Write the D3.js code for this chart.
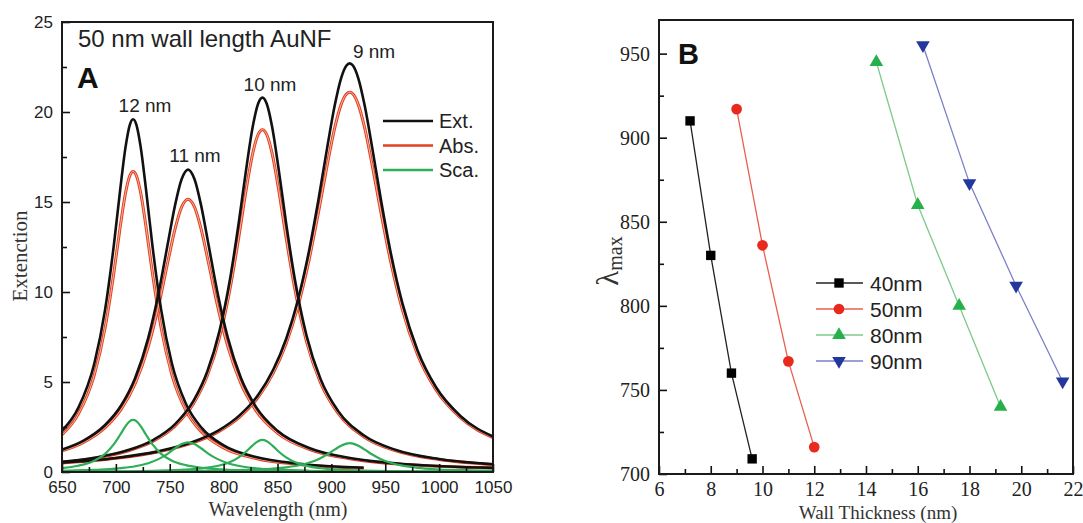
<!DOCTYPE html>
<html>
<head>
<meta charset="utf-8">
<script src="https://cdn.jsdelivr.net/npm/d3@7/dist/d3.min.js"></script>
<style>
  html, body { margin: 0; padding: 0; background: #ffffff; }
  svg { display: block; }
</style>
</head>
<body>
<svg id="fig" width="1083" height="523"></svg>
<script>
// ---------- Panel A: spectra of 50 nm wall length AuNF (wall thickness 12, 11, 10, 9 nm) ----------
const wl12  = [650, 665, 680, 690, 698, 704, 709, 713, 716, 719, 723, 728, 734, 742, 752, 765, 780, 800, 830, 870, 930];
const ext12 = [2.29, 3.55, 6.03, 9.02, 12.54, 15.68, 18.06, 19.30, 19.60, 19.30, 18.06, 15.68, 12.54, 9.02, 6.03, 3.79, 2.42, 1.48, 0.83, 0.46, 0.24];
const abs12 = [2.07, 3.20, 5.40, 8.01, 11.01, 13.61, 15.51, 16.47, 16.70, 16.47, 15.51, 13.61, 11.01, 8.01, 5.40, 3.41, 2.19, 1.34, 0.75, 0.42, 0.22];
const sca12 = [0.22, 0.35, 0.63, 1.01, 1.53, 2.07, 2.55, 2.83, 2.90, 2.83, 2.55, 2.07, 1.53, 1.01, 0.63, 0.38, 0.23, 0.14, 0.08, 0.04, 0.02];

const wl11  = [650, 670, 690, 705, 718, 730, 740, 748, 755, 761, 767, 773, 779, 786, 794, 804, 816, 830, 850, 880, 920, 970, 1050];
const ext11 = [1.24, 1.74, 2.61, 3.71, 5.24, 7.44, 10.06, 12.62, 14.84, 16.26, 16.80, 16.26, 14.84, 12.62, 10.06, 7.44, 5.24, 3.62, 2.29, 1.32, 0.75, 0.43, 0.23];
const abs11 = [1.17, 1.64, 2.46, 3.49, 4.92, 6.95, 9.33, 11.61, 13.52, 14.71, 15.15, 14.71, 13.52, 11.61, 9.33, 6.95, 4.92, 3.41, 2.16, 1.25, 0.71, 0.41, 0.22];
const sca11 = [0.07, 0.10, 0.15, 0.22, 0.32, 0.49, 0.73, 1.01, 1.32, 1.55, 1.65, 1.55, 1.32, 1.01, 0.73, 0.49, 0.32, 0.21, 0.13, 0.07, 0.04, 0.02, 0.01];

const wl10  = [650, 680, 710, 735, 755, 772, 785, 796, 806, 814, 821, 827, 832, 836, 840, 845, 851, 858, 866, 877, 890, 906, 930, 960, 1000, 1050];
const ext10 = [0.56, 0.79, 1.19, 1.79, 2.66, 3.95, 5.61, 7.80, 10.74, 13.83, 16.85, 19.18, 20.46, 20.80, 20.46, 19.18, 16.85, 13.83, 10.74, 7.57, 5.16, 3.41, 2.04, 1.22, 0.72, 0.43];
const abs10 = [0.54, 0.76, 1.15, 1.72, 2.56, 3.79, 5.37, 7.44, 10.19, 13.02, 15.71, 17.70, 18.75, 19.02, 18.75, 17.70, 15.71, 13.02, 10.19, 7.23, 4.95, 3.28, 1.96, 1.17, 0.69, 0.41];
const sca10 = [0.02, 0.03, 0.04, 0.07, 0.10, 0.16, 0.24, 0.36, 0.55, 0.81, 1.14, 1.48, 1.71, 1.78, 1.71, 1.48, 1.14, 0.81, 0.55, 0.34, 0.21, 0.13, 0.08, 0.05, 0.03, 0.02];

const wl9  = [650, 700, 740, 770, 795, 815, 832, 846, 858, 869, 879, 888, 896, 903, 909, 914, 917, 920, 925, 931, 938, 946, 955, 966, 980, 997, 1020, 1050];
const ext9 = [0.52, 0.78, 1.16, 1.64, 2.30, 3.16, 4.28, 5.68, 7.39, 9.57, 12.21, 15.13, 17.98, 20.33, 21.87, 22.58, 22.70, 22.58, 21.87, 20.33, 17.98, 15.13, 12.21, 9.35, 6.75, 4.72, 3.10, 1.97];
const abs9 = [0.50, 0.76, 1.13, 1.59, 2.23, 3.06, 4.14, 5.49, 7.13, 9.21, 11.70, 14.42, 17.01, 19.09, 20.41, 21.00, 21.10, 21.00, 20.41, 19.09, 17.01, 14.42, 11.70, 9.00, 6.52, 4.57, 3.00, 1.91];
const sca9 = [0.02, 0.02, 0.03, 0.05, 0.07, 0.10, 0.14, 0.19, 0.26, 0.36, 0.51, 0.71, 0.97, 1.24, 1.46, 1.58, 1.60, 1.58, 1.46, 1.24, 0.97, 0.71, 0.51, 0.35, 0.23, 0.15, 0.10, 0.06];

const thicknessLabels = ["12 nm", "11 nm", "10 nm", "9 nm"];
const legendA = ["Ext.", "Abs.", "Sca."];
const xTicksA = [650, 700, 750, 800, 850, 900, 950, 1000, 1050];
const yTicksA = [0, 5, 10, 15, 20, 25];

// ---------- Panel B: plasmon peak position vs wall thickness ----------
const wallLengths = ["40nm", "50nm", "80nm", "90nm"];
const thick40 = [7.2, 8.0, 8.8, 9.6];
const peak40  = [910, 830, 760, 709];
const thick50 = [9, 10, 11, 12];
const peak50  = [917, 836, 767, 716];
const thick80 = [14.4, 16.0, 17.6, 19.2];
const peak80  = [945, 860, 800, 740];
const thick90 = [16.2, 18.0, 19.8, 21.6];
const peak90  = [955, 873, 812, 755];
const xTicksB = [6, 8, 10, 12, 14, 16, 18, 20, 22];
const yTicksB = [700, 750, 800, 850, 900, 950];

const svg = d3.select("#fig");
const SANS = "'Liberation Sans', Arial, sans-serif";
const SERIF = "'Liberation Serif', 'Times New Roman', serif";

// ================= Panel A =================
const xA = d3.scaleLinear().domain([650, 1050]).range([62, 493]);
const yA = d3.scaleLinear().domain([0, 25]).range([472, 22]);

const gA = svg.append("g");
gA.append("defs").append("clipPath").attr("id", "clipA")
  .append("rect").attr("x", 62).attr("y", 22).attr("width", 431).attr("height", 450);

const lineA = d3.line().x(d => xA(d[0])).y(d => yA(d[1])).curve(d3.curveMonotoneX);
const zip = (xs, ys) => xs.map((x, i) => [x, ys[i]]);

const spectra = [
  { wl: wl12, ext: ext12, abs: abs12, sca: sca12 },
  { wl: wl11, ext: ext11, abs: abs11, sca: sca11 },
  { wl: wl10, ext: ext10, abs: abs10, sca: sca10 },
  { wl: wl9,  ext: ext9,  abs: abs9,  sca: sca9  }
];

const RED = "#e2401f", BLACK = "#111111", GREEN = "#2fae57";
const curves = gA.append("g").attr("clip-path", "url(#clipA)");

spectra.forEach(s => {
  curves.append("path").attr("d", lineA(zip(s.wl, s.abs)))
    .attr("fill", "none").attr("stroke", RED).attr("stroke-width", 3);
  curves.append("path").attr("d", lineA(zip(s.wl, s.abs)))
    .attr("fill", "none").attr("stroke", "#f8c3b4").attr("stroke-width", 0.9);
});
spectra.forEach(s => {
  curves.append("path").attr("d", lineA(zip(s.wl, s.ext)))
    .attr("fill", "none").attr("stroke", BLACK).attr("stroke-width", 2.6);
});
spectra.forEach(s => {
  curves.append("path").attr("d", lineA(zip(s.wl, s.sca)))
    .attr("fill", "none").attr("stroke", GREEN).attr("stroke-width", 2.2);
});

// axes with inward ticks
const axA = gA.append("g").attr("font-family", SANS);
axA.append("g").attr("transform", "translate(0,472)")
  .call(d3.axisBottom(xA).tickValues(d3.range(675, 1050, 50)).tickSize(-5).tickFormat(""))
  .call(g => g.select(".domain").remove());
axA.append("g").attr("transform", "translate(0,472)")
  .call(d3.axisBottom(xA).tickValues(xTicksA).tickSize(-8).tickPadding(9).tickFormat(d3.format("d")))
  .call(g => g.select(".domain").remove())
  .call(g => g.selectAll("text").attr("font-size", 17).attr("fill", "#222").attr("font-family", SANS));
axA.append("g").attr("transform", "translate(62,0)")
  .call(d3.axisLeft(yA).tickValues([2.5, 7.5, 12.5, 17.5, 22.5]).tickSize(-5).tickFormat(""))
  .call(g => g.select(".domain").remove());
axA.append("g").attr("transform", "translate(62,0)")
  .call(d3.axisLeft(yA).tickValues(yTicksA).tickSize(-8).tickPadding(9).tickFormat(d3.format("d")))
  .call(g => g.select(".domain").remove())
  .call(g => g.selectAll("text").attr("font-size", 17).attr("fill", "#222").attr("font-family", SANS));
axA.selectAll(".tick line").attr("stroke", "#111").attr("stroke-width", 1.6);

gA.append("rect").attr("x", 62).attr("y", 22).attr("width", 431).attr("height", 450)
  .attr("fill", "none").attr("stroke", "#1a1a1a").attr("stroke-width", 2);

gA.append("text").attr("x", 20).attr("y", 256)
  .attr("transform", "rotate(-90,20,256)").attr("text-anchor", "middle").attr("dominant-baseline", "central")
  .attr("font-family", SERIF).attr("font-size", 21).attr("fill", "#333").text("Extenction");
gA.append("text").attr("x", 278).attr("y", 516).attr("text-anchor", "middle")
  .attr("font-family", SERIF).attr("font-size", 20).attr("fill", "#333").text("Wavelength (nm)");

gA.append("text").attr("x", 78).attr("y", 47).attr("font-family", SANS).attr("font-size", 24)
  .attr("fill", "#222").text("50 nm wall length AuNF");
gA.append("text").attr("x", 77).attr("y", 88).attr("font-family", SANS).attr("font-size", 30)
  .attr("font-weight", "bold").attr("fill", "#111").text("A");

// peak labels positioned above each extinction maximum
const labelPos = [
  { x: 145, y: 112 }, { x: 195, y: 162 }, { x: 270, y: 91 }, { x: 374, y: 58 }
];
thicknessLabels.forEach((t, i) => {
  gA.append("text").attr("x", labelPos[i].x).attr("y", labelPos[i].y).attr("text-anchor", "middle")
    .attr("font-family", SANS).attr("font-size", 19).attr("fill", "#222").text(t);
});

const legColors = [BLACK, RED, GREEN];
legendA.forEach((t, i) => {
  const cy = 121 + i * 24.5;
  gA.append("line").attr("x1", 383).attr("x2", 433).attr("y1", cy).attr("y2", cy)
    .attr("stroke", legColors[i]).attr("stroke-width", 2.6);
  gA.append("text").attr("x", 439).attr("y", cy).attr("dominant-baseline", "central")
    .attr("font-family", SANS).attr("font-size", 20).attr("fill", "#222").text(t);
});

// ================= Panel B =================
const xB = d3.scaleLinear().domain([6, 22]).range([659, 1073]);
const yB = d3.scaleLinear().domain([700, 970]).range([474, 20]);
const gB = svg.append("g");

const axB = gB.append("g");
axB.append("g").attr("transform", "translate(0,474)")
  .call(d3.axisBottom(xB).tickValues(d3.range(7, 22, 2)).tickSize(-5).tickFormat(""))
  .call(g => g.select(".domain").remove());
axB.append("g").attr("transform", "translate(0,474)")
  .call(d3.axisBottom(xB).tickValues(xTicksB).tickSize(-8).tickPadding(8).tickFormat(d3.format("d")))
  .call(g => g.select(".domain").remove())
  .call(g => g.selectAll("text").attr("font-size", 20).attr("fill", "#222").attr("font-family", SERIF));
axB.append("g").attr("transform", "translate(659,0)")
  .call(d3.axisLeft(yB).tickValues(d3.range(725, 970, 50)).tickSize(-5).tickFormat(""))
  .call(g => g.select(".domain").remove());
axB.append("g").attr("transform", "translate(659,0)")
  .call(d3.axisLeft(yB).tickValues(yTicksB).tickSize(-8).tickPadding(9).tickFormat(d3.format("d")))
  .call(g => g.select(".domain").remove())
  .call(g => g.selectAll("text").attr("font-size", 20).attr("fill", "#222").attr("font-family", SERIF));
axB.selectAll(".tick line").attr("stroke", "#111").attr("stroke-width", 1.6);

gB.append("rect").attr("x", 659).attr("y", 20).attr("width", 414).attr("height", 454)
  .attr("fill", "none").attr("stroke", "#1a1a1a").attr("stroke-width", 2);

const seriesB = [
  { name: wallLengths[0], xs: thick40, ys: peak40, line: "#222222", fill: "#000000", sym: d3.symbolSquare, size: 88, rot: 0 },
  { name: wallLengths[1], xs: thick50, ys: peak50, line: "#e8604f", fill: "#e8291d", sym: d3.symbolCircle, size: 90, rot: 0 },
  { name: wallLengths[2], xs: thick80, ys: peak80, line: "#7ccb8a", fill: "#25b04a", sym: d3.symbolTriangle, size: 80, rot: 0 },
  { name: wallLengths[3], xs: thick90, ys: peak90, line: "#7c80c6", fill: "#23389e", sym: d3.symbolTriangle, size: 80, rot: 180 }
];

const lineB = d3.line().x(d => xB(d[0])).y(d => yB(d[1]));
seriesB.forEach(s => {
  const pts = zip(s.xs, s.ys);
  gB.append("path").attr("d", lineB(pts)).attr("fill", "none")
    .attr("stroke", s.line).attr("stroke-width", 1.3);
  gB.selectAll(null).data(pts).enter().append("path")
    .attr("d", d3.symbol(s.sym, s.size))
    .attr("transform", d => `translate(${xB(d[0])},${yB(d[1])}) rotate(${s.rot})`)
    .attr("fill", s.fill);
});

seriesB.forEach((s, i) => {
  const cy = 283 + i * 26;
  gB.append("line").attr("x1", 816).attr("x2", 863).attr("y1", cy).attr("y2", cy)
    .attr("stroke", s.line).attr("stroke-width", 1.3);
  gB.append("path").attr("d", d3.symbol(s.sym, s.size))
    .attr("transform", `translate(839,${cy}) rotate(${s.rot})`).attr("fill", s.fill);
  gB.append("text").attr("x", 870).attr("y", cy).attr("dominant-baseline", "central")
    .attr("font-family", SANS).attr("font-size", 21).attr("fill", "#222").text(s.name);
});

gB.append("text").attr("x", 878).attr("y", 519).attr("text-anchor", "middle")
  .attr("font-family", SERIF).attr("font-size", 19).attr("fill", "#333").text("Wall Thickness (nm)");

gB.append("text").attr("x", 678).attr("y", 64).attr("font-family", SANS).attr("font-size", 29)
  .attr("font-weight", "bold").attr("fill", "#111").text("B");

const yLab = gB.append("text").attr("transform", "translate(618,261) rotate(-90)")
  .attr("text-anchor", "middle").attr("font-family", SERIF).attr("fill", "#333");
yLab.append("tspan").attr("font-size", 31).text("λ");
yLab.append("tspan").attr("font-size", 20).attr("dy", 4).text("max");
</script>
</body>
</html>
